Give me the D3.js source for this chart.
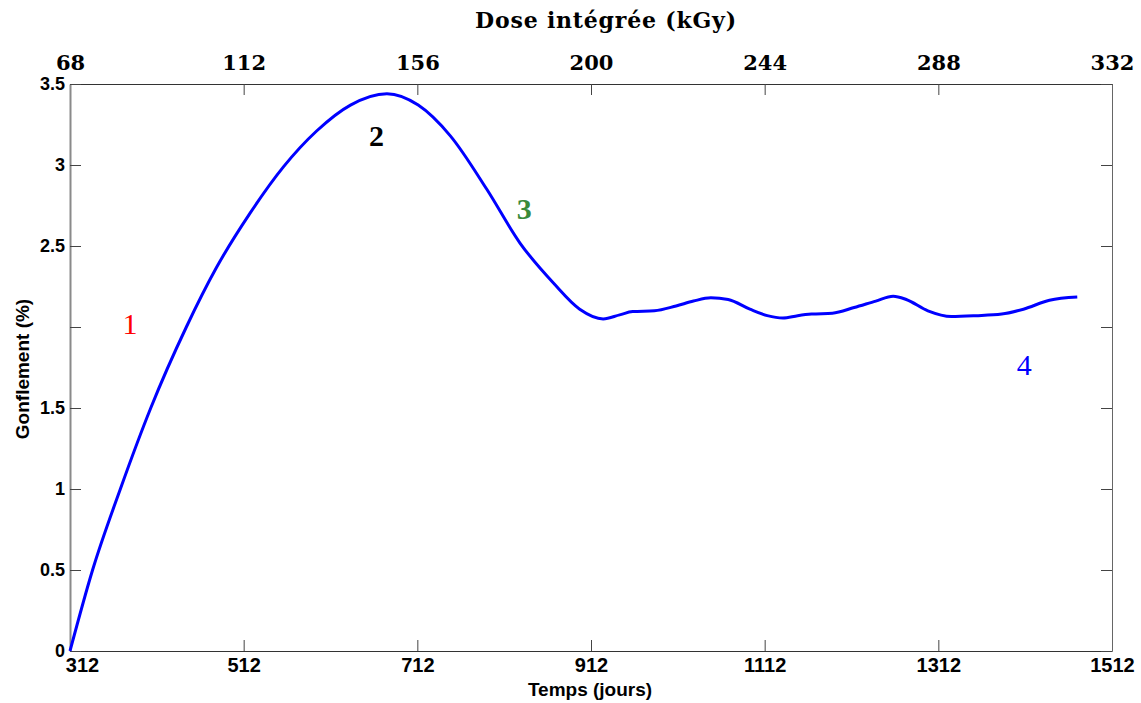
<!DOCTYPE html>
<html>
<head>
  <meta charset="utf-8">
  <title>Gonflement</title>
  <style>
    body { margin: 0; background: #fff; }
    svg { display: block; }
    .tick-sans { font-family: "Liberation Sans", Arial, sans-serif; font-weight: bold; }
    .tick-serif { font-family: "DejaVu Serif", serif; font-weight: bold; }
  </style>
</head>
<body>
  <div id="chart"></div>

  <script src="https://d3js.org/d3.v7.min.js"></script>
  <script>
    // temps (jours) et gonflement (%)
    const days = [312, 338, 370, 405, 446, 481, 519, 558, 596, 635, 677, 713, 750, 792, 830, 869, 899,
      926, 945, 960, 985, 1010, 1030, 1050, 1070, 1095, 1115, 1133, 1150, 1166, 1190, 1215, 1240,
      1260, 1275, 1300, 1327, 1355, 1385, 1410, 1440, 1472];
    const swelling = [0, 0.5, 1.0, 1.5, 2.0, 2.37, 2.70, 2.99, 3.21, 3.37, 3.44, 3.37, 3.18, 2.85, 2.52, 2.27, 2.11,
      2.05, 2.075, 2.095, 2.10, 2.13, 2.16, 2.18, 2.17, 2.11, 2.07, 2.055, 2.07, 2.08, 2.085, 2.12, 2.16,
      2.19, 2.17, 2.10, 2.065, 2.07, 2.08, 2.11, 2.165, 2.185];

    const timeTicks = [312, 512, 712, 912, 1112, 1312, 1512];
    const doseTicks = [68, 112, 156, 200, 244, 288, 332];
    const yTicks = [0, 0.5, 1, 1.5, 2, 2.5, 3, 3.5];

    const annotations = [
      { label: "1", day: 381, value: 2.02, color: "#ff0000", weight: "normal" },
      { label: "2", day: 665, value: 3.18, color: "#000000", weight: "bold" },
      { label: "3", day: 835, value: 2.73, color: "#3a8a3a", weight: "bold" },
      { label: "4", day: 1411, value: 1.77, color: "#0000ff", weight: "normal" }
    ];

    const W = 1141, H = 703;
    const margin = { top: 84, right: 29, bottom: 52, left: 70 };
    const width = W - margin.left - margin.right;
    const height = H - margin.top - margin.bottom;

    const svg = d3.select("#chart").append("svg")
      .attr("width", W)
      .attr("height", H);

    const g = svg.append("g")
      .attr("transform", `translate(${margin.left},${margin.top})`);

    const x = d3.scaleLinear().domain([312, 1512]).range([0, width]);
    const xDose = d3.scaleLinear().domain([68, 332]).range([0, width]);
    const y = d3.scaleLinear().domain([0, 3.5]).range([height, 0]);

    // bottom axis
    const xAxis = d3.axisBottom(x).tickValues(timeTicks).tickFormat(d3.format("d"))
      .tickSizeInner(-11).tickSizeOuter(0).tickPadding(3);
    const gx = g.append("g").attr("transform", `translate(0,${height})`).call(xAxis);
    gx.select(".domain").attr("stroke", "#333");
    gx.selectAll(".tick line").attr("stroke", "#444");
    gx.selectAll(".tick text").attr("class", "tick-sans").attr("font-size", 20).attr("fill", "#000")
      .attr("dy", "0.9em")
      .attr("dx", (d, i) => i === 0 ? 12 : 0);

    // top axis (dose)
    const xTop = d3.axisTop(xDose).tickValues(doseTicks).tickSizeInner(-11).tickSizeOuter(0).tickPadding(14);
    const gt = g.append("g").call(xTop);
    gt.select(".domain").attr("stroke", "#333");
    gt.selectAll(".tick line").attr("stroke", "#444");
    gt.selectAll(".tick text").attr("class", "tick-serif").attr("font-size", 21).attr("fill", "#000");

    // left axis
    const yAxis = d3.axisLeft(y).tickValues(yTicks).tickSizeInner(-11).tickSizeOuter(0).tickPadding(5)
      .tickFormat(d => d === 2 ? "" : d3.format("")(d));
    const gy = g.append("g").call(yAxis);
    gy.select(".domain").attr("stroke", "#8a8a8a").attr("stroke-width", 2);
    gy.selectAll(".tick line").attr("stroke", "#444");
    gy.selectAll(".tick text").attr("class", "tick-sans").attr("font-size", 18).attr("fill", "#000");

    // right axis
    const yRight = d3.axisRight(y).tickValues(yTicks).tickSizeInner(-11).tickSizeOuter(0).tickFormat("");
    const gr = g.append("g").attr("transform", `translate(${width},0)`).call(yRight);
    gr.select(".domain").attr("stroke", "#666");
    gr.selectAll(".tick line").attr("stroke", "#444");

    // courbe
    const pts = days.map((d, i) => [d, swelling[i]]);
    const line = d3.line()
      .x(d => x(d[0]))
      .y(d => y(d[1]))
      .curve(d3.curveMonotoneX);

    g.append("path")
      .datum(pts)
      .attr("d", line)
      .attr("fill", "none")
      .attr("stroke", "#0000ff")
      .attr("stroke-width", 3);

    // annotations
    g.selectAll(".annot")
      .data(annotations)
      .join("text")
      .attr("class", "annot")
      .attr("x", d => x(d.day))
      .attr("y", d => y(d.value))
      .attr("text-anchor", "middle")
      .attr("dominant-baseline", "central")
      .attr("font-family", "'Liberation Serif', 'Times New Roman', serif")
      .attr("font-size", 30)
      .attr("font-weight", d => d.weight)
      .attr("fill", d => d.color)
      .text(d => d.label);

    // titres
    svg.append("text")
      .attr("x", 606)
      .attr("y", 28)
      .attr("text-anchor", "middle")
      .attr("class", "tick-serif")
      .attr("font-size", 22)
      .attr("letter-spacing", 0.8)
      .text("Dose intégrée (kGy)");

    svg.append("text")
      .attr("x", 590)
      .attr("y", 696)
      .attr("text-anchor", "middle")
      .attr("class", "tick-sans")
      .attr("font-size", 19)
      .text("Temps (jours)");

    svg.append("text")
      .attr("transform", "translate(29,369) rotate(-90)")
      .attr("text-anchor", "middle")
      .attr("class", "tick-sans")
      .attr("font-size", 19)
      .text("Gonflement (%)");
  </script>
</body>
</html>
